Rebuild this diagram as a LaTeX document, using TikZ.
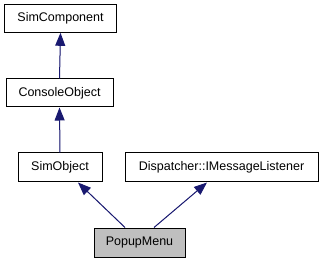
\documentclass[tikz,border=0pt]{standalone}
\usepackage{fontspec}
\setmainfont{Liberation Sans}
\usetikzlibrary{arrows.meta}
\definecolor{edgeblue}{HTML}{191970}
\begin{document}
\begin{tikzpicture}[x=1pt,y=-1pt,
  cls/.style={draw=black,line width=1pt,fill=white,inner sep=0pt,
    font=\fontsize{12.5}{14}\selectfont,text height=9pt,text depth=2.5pt},
  here/.style={cls,fill=black!25},
  inherit/.style={draw=edgeblue,line width=1pt,
    -{Triangle[length=13pt,width=10pt]},fill=edgeblue}]
\useasboundingbox (0,0) rectangle (323,261);
\node[cls,minimum width=112pt,minimum height=28pt] (sc) at (60.5,18.3) {SimComponent};
\node[cls,minimum width=107pt,minimum height=28pt] (co) at (59.5,93) {ConsoleObject};
\node[cls,minimum width=84pt,minimum height=29pt] (so) at (60,167.5) {SimObject};
\node[cls,minimum width=193pt,minimum height=29pt] (ml) at (221.5,167.5) {Dispatcher::IMessageListener};
\node[here,minimum width=91pt,minimum height=29pt] (pm) at (139.5,242.5) {PopupMenu};
\draw[inherit] (co.north) -- (sc.south);
\draw[inherit] (so.north) -- (co.south);
\draw[inherit] ([xshift=-14.5pt]pm.north) -- ([xshift=18pt]so.south);
\draw[inherit] ([xshift=14.5pt]pm.north) -- ([xshift=-14.5pt]ml.south);
\end{tikzpicture}
\end{document}
